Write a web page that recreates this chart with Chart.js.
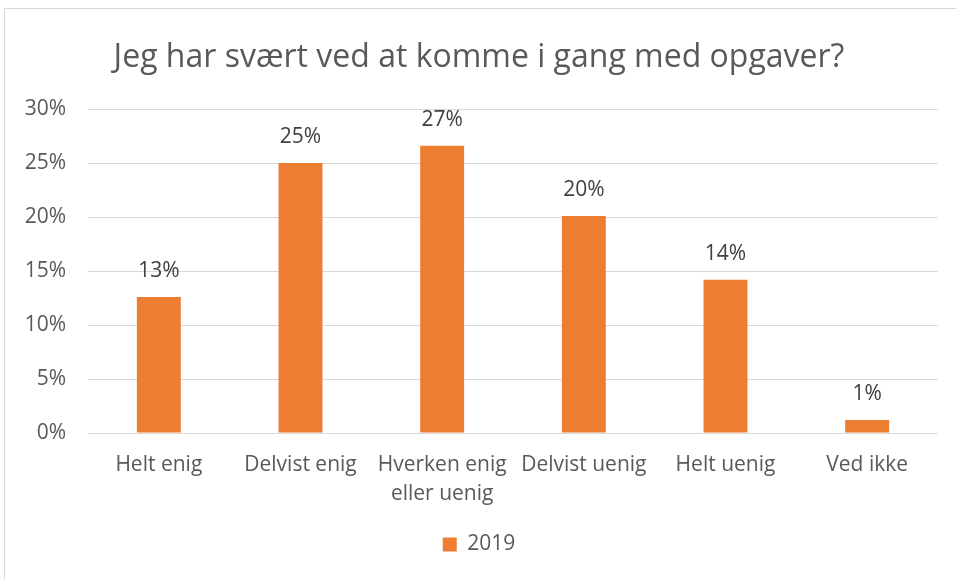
<!DOCTYPE html>
<html>
<head>
<meta charset="utf-8">
<script src="https://cdn.jsdelivr.net/npm/chart.js@4/dist/chart.umd.min.js"></script>
<style>
  html, body { margin: 0; padding: 0; background: #fff; }
  #wrap { position: relative; width: 956px; height: 579px; overflow: hidden; }
  #frame { position: absolute; left: 4px; top: 8px; width: 1200px; height: 1200px; border: 1px solid #d9d9d9; box-sizing: border-box; }
  canvas { position: absolute; left: 0; top: 0; }
</style>
</head>
<body>
<div id="wrap">
  <div id="frame"></div>
  <canvas id="c" width="956" height="579"></canvas>
</div>
<script>
const titleText = "Jeg har svært ved at komme i gang med opgaver?";
const categories = [["Helt enig"], ["Delvist enig"], ["Hverken enig", "eller uenig"], ["Delvist uenig"], ["Helt uenig"], ["Ved ikke"]];
const seriesName = "2019";
const values2019 = [12.6, 25.0, 26.6, 20.1, 14.2, 1.2];
const yTicks = [0, 5, 10, 15, 20, 25, 30];

const FONT = "'Open Sans', sans-serif";
const TEXT = "#595959";

const dataLabels = {
  id: 'dataLabels',
  afterDatasetsDraw(chart) {
    const ctx = chart.ctx;
    const meta = chart.getDatasetMeta(0);
    ctx.save();
    ctx.font = "21px " + FONT;
    ctx.fillStyle = "#404040";
    ctx.textAlign = "center";
    ctx.textBaseline = "middle";
    meta.data.forEach((bar, i) => {
      ctx.fillText(Math.round(values2019[i]) + "%", bar.x, bar.y - 26);
    });
    ctx.restore();
  }
};

new Chart(document.getElementById('c'), {
  type: 'bar',
  data: {
    labels: categories,
    datasets: [{
      label: seriesName,
      data: values2019,
      backgroundColor: '#ED7D31',
      borderWidth: 0,
      categoryPercentage: 1,
      barPercentage: 0.31
    }]
  },
  options: {
    responsive: false,
    animation: false,
    devicePixelRatio: 1,
    layout: { padding: { left: 20, right: 18, top: 0, bottom: 14 } },
    plugins: {
      title: {
        display: true,
        text: titleText,
        color: TEXT,
        font: { family: FONT, size: 32, weight: 'normal', lineHeight: 1.2 },
        padding: { top: 39, bottom: 31.6 }
      },
      legend: {
        display: true,
        position: 'bottom',
        labels: {
          color: TEXT,
          font: { family: FONT, size: 21 },
          boxWidth: 14,
          boxHeight: 14,
          padding: 10
        }
      },
      tooltip: { enabled: false }
    },
    scales: {
      x: {
        grid: { display: false, drawTicks: false },
        border: { display: false },
        ticks: {
          color: TEXT,
          font: { family: FONT, size: 21, lineHeight: 1.35 },
          maxRotation: 0,
          autoSkip: false,
          padding: 18
        },
        afterFit(scale) { scale.height = 91; }
      },
      y: {
        min: 0,
        max: 30,
        afterBuildTicks(scale) { scale.ticks = yTicks.map(v => ({ value: v })); },
        grid: { color: '#d9d9d9', lineWidth: 1, drawTicks: false },
        border: { display: false },
        ticks: {
          color: TEXT,
          font: { family: FONT, size: 21 },
          padding: 22,
          callback: v => v + "%"
        },
        afterFit(scale) { scale.width = 68; }
      }
    }
  },
  plugins: [dataLabels]
});
</script>
</body>
</html>
